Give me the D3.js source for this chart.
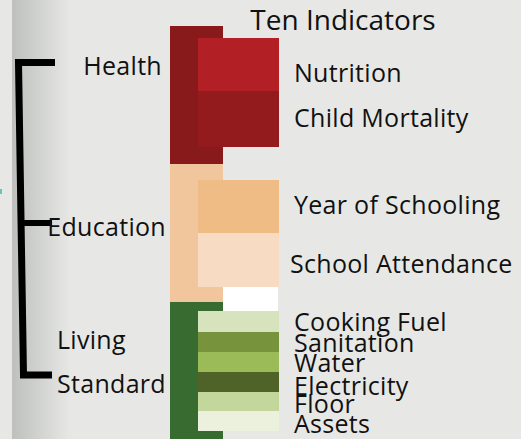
<!DOCTYPE html>
<html>
<head>
<meta charset="utf-8">
<script src="https://cdn.jsdelivr.net/npm/d3@7"></script>
<style>
  html, body { margin: 0; padding: 0; background: #e7e8e6; }
  svg { display: block; font-family: "Open Sans", sans-serif; }
</style>
</head>
<body>
<script>
// three dimensions, equal weight each
var groups = ["Health", "Education", "Living Standard"];
var groupValues = [138, 138, 138];
var groupColors = ["#881a1c", "#f2c69c", "#386b30"];

// ten indicators (bar heights)
var indicators = ["Nutrition", "Child Mortality", "Year of Schooling", "School Attendance",
  "Cooking Fuel", "Sanitation", "Water", "Electricity", "Floor", "Assets"];
var indicatorGroup = [0, 0, 1, 1, 2, 2, 2, 2, 2, 2];
var indicatorValues = [53, 56, 53, 54, 21, 20, 20, 20, 19, 20];
var indicatorColors = ["#b21f25", "#931a1d", "#efbc86", "#f7dcc3",
  "#d7e3bc", "#77933c", "#9bbb59", "#4f6228", "#c3d69b", "#ebf1dd"];

var width = 521, height = 439;
var padTop = [12, 16, 9];          // inner offset of the indicator stack in each group
var labelNudge = [17, 8, 7, 13, 9, 10, 10, 13, 11, 12];
var fs = 25;

var svg = d3.select("body").append("svg")
    .attr("width", width)
    .attr("height", height);

var defs = svg.append("defs");
var grad = defs.append("linearGradient").attr("id", "side")
    .attr("x1", "0").attr("x2", "1").attr("y1", "0").attr("y2", "0");
grad.append("stop").attr("offset", "0%").attr("stop-color", "#bec0bd");
grad.append("stop").attr("offset", "100%").attr("stop-color", "#e7e8e6");

svg.append("rect").attr("width", width).attr("height", height).attr("fill", "#e7e8e6");
svg.append("rect").attr("x", 12).attr("y", 0).attr("width", 58).attr("height", height)
    .attr("fill", "url(#side)");
svg.append("rect").attr("x", 0).attr("y", 189).attr("width", 2).attr("height", 5).attr("fill", "#5cc8c0");

var total = d3.sum(groupValues);
var y = d3.scaleLinear().domain([0, total]).range([26, 26 + total]);

var groupStart = groupValues.map(function(d, i){ return d3.sum(groupValues.slice(0, i)); });

// indicator stack positions
var indStart = [];
indicators.forEach(function(d, i){
  var g = indicatorGroup[i];
  var before = 0;
  for (var j = 0; j < i; j++) if (indicatorGroup[j] === g) before += indicatorValues[j];
  indStart.push(groupStart[g] + padTop[g] + before);
});

// group bars (back)
svg.selectAll("rect.group")
    .data(groups)
    .enter().append("rect")
    .attr("class", "group")
    .attr("x", 170)
    .attr("width", 53)
    .attr("y", function(d, i){ return y(groupStart[i]); })
    .attr("height", function(d, i){ return y(groupStart[i] + groupValues[i]) - y(groupStart[i]) + 1; })
    .attr("fill", function(d, i){ return groupColors[i]; });

// white filler between education and living standard indicators
svg.append("rect")
    .attr("x", 223)
    .attr("width", 55)
    .attr("y", y(indStart[3] + indicatorValues[3]))
    .attr("height", y(indStart[4]) - y(indStart[3] + indicatorValues[3]))
    .attr("fill", "#ffffff");

// indicator bars (front)
svg.selectAll("rect.ind")
    .data(indicators)
    .enter().append("rect")
    .attr("class", "ind")
    .attr("x", 198)
    .attr("width", 81)
    .attr("y", function(d, i){ return y(indStart[i]); })
    .attr("height", function(d, i){ return y(indStart[i] + indicatorValues[i]) - y(indStart[i]); })
    .attr("fill", function(d, i){ return indicatorColors[i]; });

// indicator labels
svg.selectAll("text.ind")
    .data(indicators)
    .enter().append("text")
    .attr("class", "ind")
    .attr("x", function(d, i){ return i === 3 ? 290 : 294; })
    .attr("y", function(d, i){ return y(indStart[i] + indicatorValues[i] / 2) + labelNudge[i]; })
    .attr("font-size", fs)
    .attr("letter-spacing", 0.3)
    .attr("fill", "#111")
    .text(function(d){ return d; });

svg.append("text")
    .attr("x", 343).attr("y", 30)
    .attr("text-anchor", "middle")
    .attr("font-size", 28)
    .attr("fill", "#111")
    .text("Ten Indicators");

// bracket
svg.append("path")
    .attr("d", "M55,62.5 H18.5 L23.5,375 H52")
    .attr("fill", "none")
    .attr("stroke", "#000")
    .attr("stroke-width", 7);
svg.append("line")
    .attr("x1", 20).attr("x2", 52)
    .attr("y1", 223).attr("y2", 223)
    .attr("stroke", "#000")
    .attr("stroke-width", 6);

// dimension labels
var dimLabels = [
  {t: "Health", x: 162, y: y(groupStart[0]) + 49, a: "end"},
  {t: "Education", x: 166, y: y(groupStart[1]) + 72, a: "end"},
  {t: "Living", x: 57, y: y(groupStart[2]) + 47, a: "start"},
  {t: "Standard", x: 57, y: y(groupStart[2]) + 91, a: "start"}
];
svg.selectAll("text.dim")
    .data(dimLabels)
    .enter().append("text")
    .attr("class", "dim")
    .attr("x", function(d){ return d.x; })
    .attr("y", function(d){ return d.y; })
    .attr("text-anchor", function(d){ return d.a; })
    .attr("font-size", fs)
    .attr("letter-spacing", 0.3)
    .attr("fill", "#111")
    .text(function(d){ return d.t; });
</script>
</body>
</html>
